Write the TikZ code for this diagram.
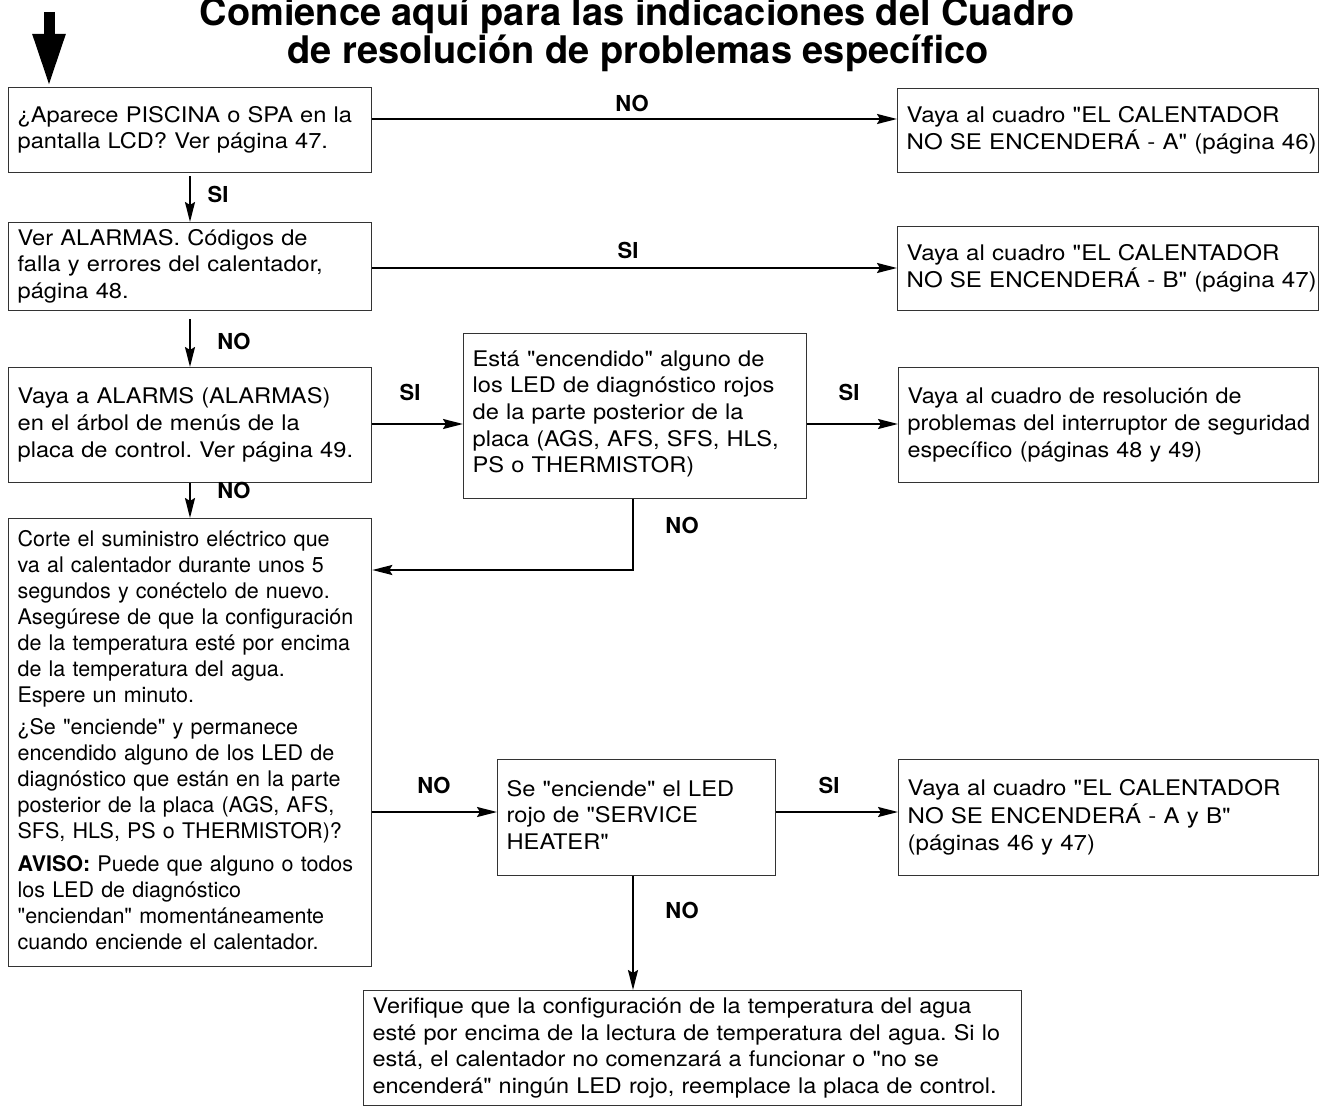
\documentclass[tikz,border=0pt]{standalone}
\usepackage{fontspec}
\setmainfont{TeX Gyre Heros}[Ligatures=TeXOff]
\newfontfamily\fwa{TeX Gyre Heros}[Ligatures=TeXOff,FakeStretch=1.10]
\newfontfamily\fwb{TeX Gyre Heros}[Ligatures=TeXOff,FakeStretch=1.12]
\newfontfamily\fwc{TeX Gyre Heros}[Ligatures=TeXOff,FakeStretch=1.085]
\newfontfamily\fwd{TeX Gyre Heros}[Ligatures=TeXOff,FakeStretch=1.09]
\usetikzlibrary{arrows.meta,positioning}
\frenchspacing
\newcommand\txtlines[1]{\begin{tabular}{@{}l@{}}#1\end{tabular}}
\begin{document}
\begin{tikzpicture}[x=1pt,y=-1pt,
  box/.style={draw=black!80,line width=1.3pt,anchor=north west,inner xsep=9pt,inner ysep=0pt,
    align=left,font=\fontsize{21.5}{26.7}\selectfont\fwa},
  arr/.style={line width=2pt,-{Stealth[length=20pt,width=10pt,inset=3pt]}},
  lab/.style={font=\fontsize{22}{26}\selectfont\bfseries},
  ttl/.style={anchor=base,font=\fontsize{38}{38}\selectfont\bfseries}]
\useasboundingbox (0,0) rectangle (1320,1110);
\clip (0,0) rectangle (1320,1110);
% title
\node[ttl] (t1) at (637,26) {Comience aquí para las indicaciones del Cuadro};
\node[ttl] (t2) at (638,64) {de resolución de problemas específico};
% boxes
\node[box,minimum width=363pt,minimum height=85pt,text width=345pt] (b1) at (8,87)
  {\txtlines{¿Aparece PISCINA o SPA en la\\pantalla LCD? Ver página 47.}};
\node[box,minimum width=421pt,minimum height=84pt,text width=403pt,font=\fontsize{21.5}{26.7}\selectfont\fwb] (r1) at (897,88)
  {\txtlines{Vaya al cuadro "EL CALENTADOR\\NO SE ENCENDERÁ - A" (página 46)}};
\node[box,minimum width=363pt,minimum height=88pt,text width=345pt] (b2) at (8,222)
  {\txtlines{Ver ALARMAS. Códigos de\\falla y errores del calentador,\\página 48.}};
\node[box,minimum width=421pt,minimum height=84pt,text width=403pt,font=\fontsize{21.5}{26.7}\selectfont\fwb] (r2) at (897,226)
  {\txtlines{Vaya al cuadro "EL CALENTADOR\\NO SE ENCENDERÁ - B" (página 47)}};
\node[box,minimum width=363pt,minimum height=115pt,text width=345pt] (b3) at (8,367)
  {\txtlines{Vaya a ALARMS (ALARMAS)\\en el árbol de menús de la\\placa de control. Ver página 49.}};
\node[box,minimum width=343pt,minimum height=165pt,text width=325pt] (b4) at (463,333)
  {\txtlines{Está "encendido" alguno de\\los LED de diagnóstico rojos\\de la parte posterior de la\\placa (AGS, AFS, SFS, HLS,\\PS o THERMISTOR)\\[4pt]}};
\node[box,minimum width=420pt,minimum height=115pt,text width=402pt,font=\fontsize{21.5}{26.7}\selectfont\fwc] (r3) at (898,367)
  {\txtlines{Vaya al cuadro de resolución de\\problemas del interruptor de seguridad\\específico (páginas 48 y 49)}};
\node[box,minimum width=363pt,minimum height=448pt,text width=345pt,font=\fontsize{21.5}{26}\selectfont] (b5) at (8,518)
  {\txtlines{Corte el suministro eléctrico que\\va al calentador durante unos 5\\segundos y conéctelo de nuevo.\\Asegúrese de que la configuración\\de la temperatura esté por encima\\de la temperatura del agua.\\Espere un minuto.\\[6.5pt]
  ¿Se "enciende" y permanece\\encendido alguno de los LED de\\diagnóstico que están en la parte\\posterior de la placa (AGS, AFS,\\SFS, HLS, PS o THERMISTOR)?\\[6.5pt]
  \textbf{AVISO:} Puede que alguno o todos\\los LED de diagnóstico\\"enciendan" momentáneamente\\cuando enciende el calentador.}};
\node[box,minimum width=278pt,minimum height=116pt,text width=260pt] (b6) at (497,759)
  {\txtlines{Se "enciende" el LED\\rojo de "SERVICE\\HEATER"}};
\node[box,minimum width=420pt,minimum height=116pt,text width=402pt,font=\fontsize{21.5}{26.7}\selectfont\fwb] (r4) at (898,759)
  {\txtlines{Vaya al cuadro "EL CALENTADOR\\NO SE ENCENDERÁ - A y B"\\(páginas 46 y 47)}};
\node[box,minimum width=658pt,minimum height=115pt,text width=640pt,font=\fontsize{21.5}{26.7}\selectfont\fwd] (b7) at (363,990)
  {\txtlines{Verifique que la configuración de la temperatura del agua\\esté por encima de la lectura de temperatura del agua. Si lo\\está, el calentador no comenzará a funcionar o "no se\\encenderá" ningún LED rojo, reemplace la placa de control.}};
% start arrow
\coordinate (s0) at (49,12);
\draw[line width=11pt,-{Triangle[length=53pt,width=30pt]}] (s0) -- (b1.north -| s0);
% connectors
\draw[arr] (b1.east |- 0,119) -- (r1.west |- 0,119);
\draw[arr] (b1.south -| 190,0) ++(0,3) -- (b2.north -| 190,0);
\draw[arr] (b2.east |- 0,268) -- (r2.west |- 0,268);
\draw[arr] (b2.south -| 190,0) ++(0,8) -- (b3.north -| 190,0);
\draw[arr] (b3.east |- 0,424) -- (b4.west |- 0,424);
\draw[arr] (b4.east |- 0,424) -- (r3.west |- 0,424);
\draw[arr] (b3.south -| 190,0) -- (b5.north -| 190,0);
\draw[arr] (b4.south -| 633,0) |- (b5.east |- 0,570);
\draw[arr] (b5.east |- 0,812) -- (b6.west |- 0,812);
\draw[arr] (b6.east |- 0,812) -- (r4.west |- 0,812);
\draw[arr] (b6.south -| 633,0) -- (b7.north -| 633,0);
% labels
\node[lab] (l1) at (632,103) {NO};
\node[lab] (l2) at (218,194) {SI};
\node[lab] (l3) at (628,250) {SI};
\node[lab] (l4) at (234,341) {NO};
\node[lab] (l5) at (410,392) {SI};
\node[lab] (l6) at (849,392) {SI};
\node[lab] (l7) at (234,490) {NO};
\node[lab] (l8) at (682,525) {NO};
\node[lab] (l9) at (434,785) {NO};
\node[lab] (l10) at (829,785) {SI};
\node[lab] (l11) at (682,910) {NO};
\end{tikzpicture}
\end{document}
